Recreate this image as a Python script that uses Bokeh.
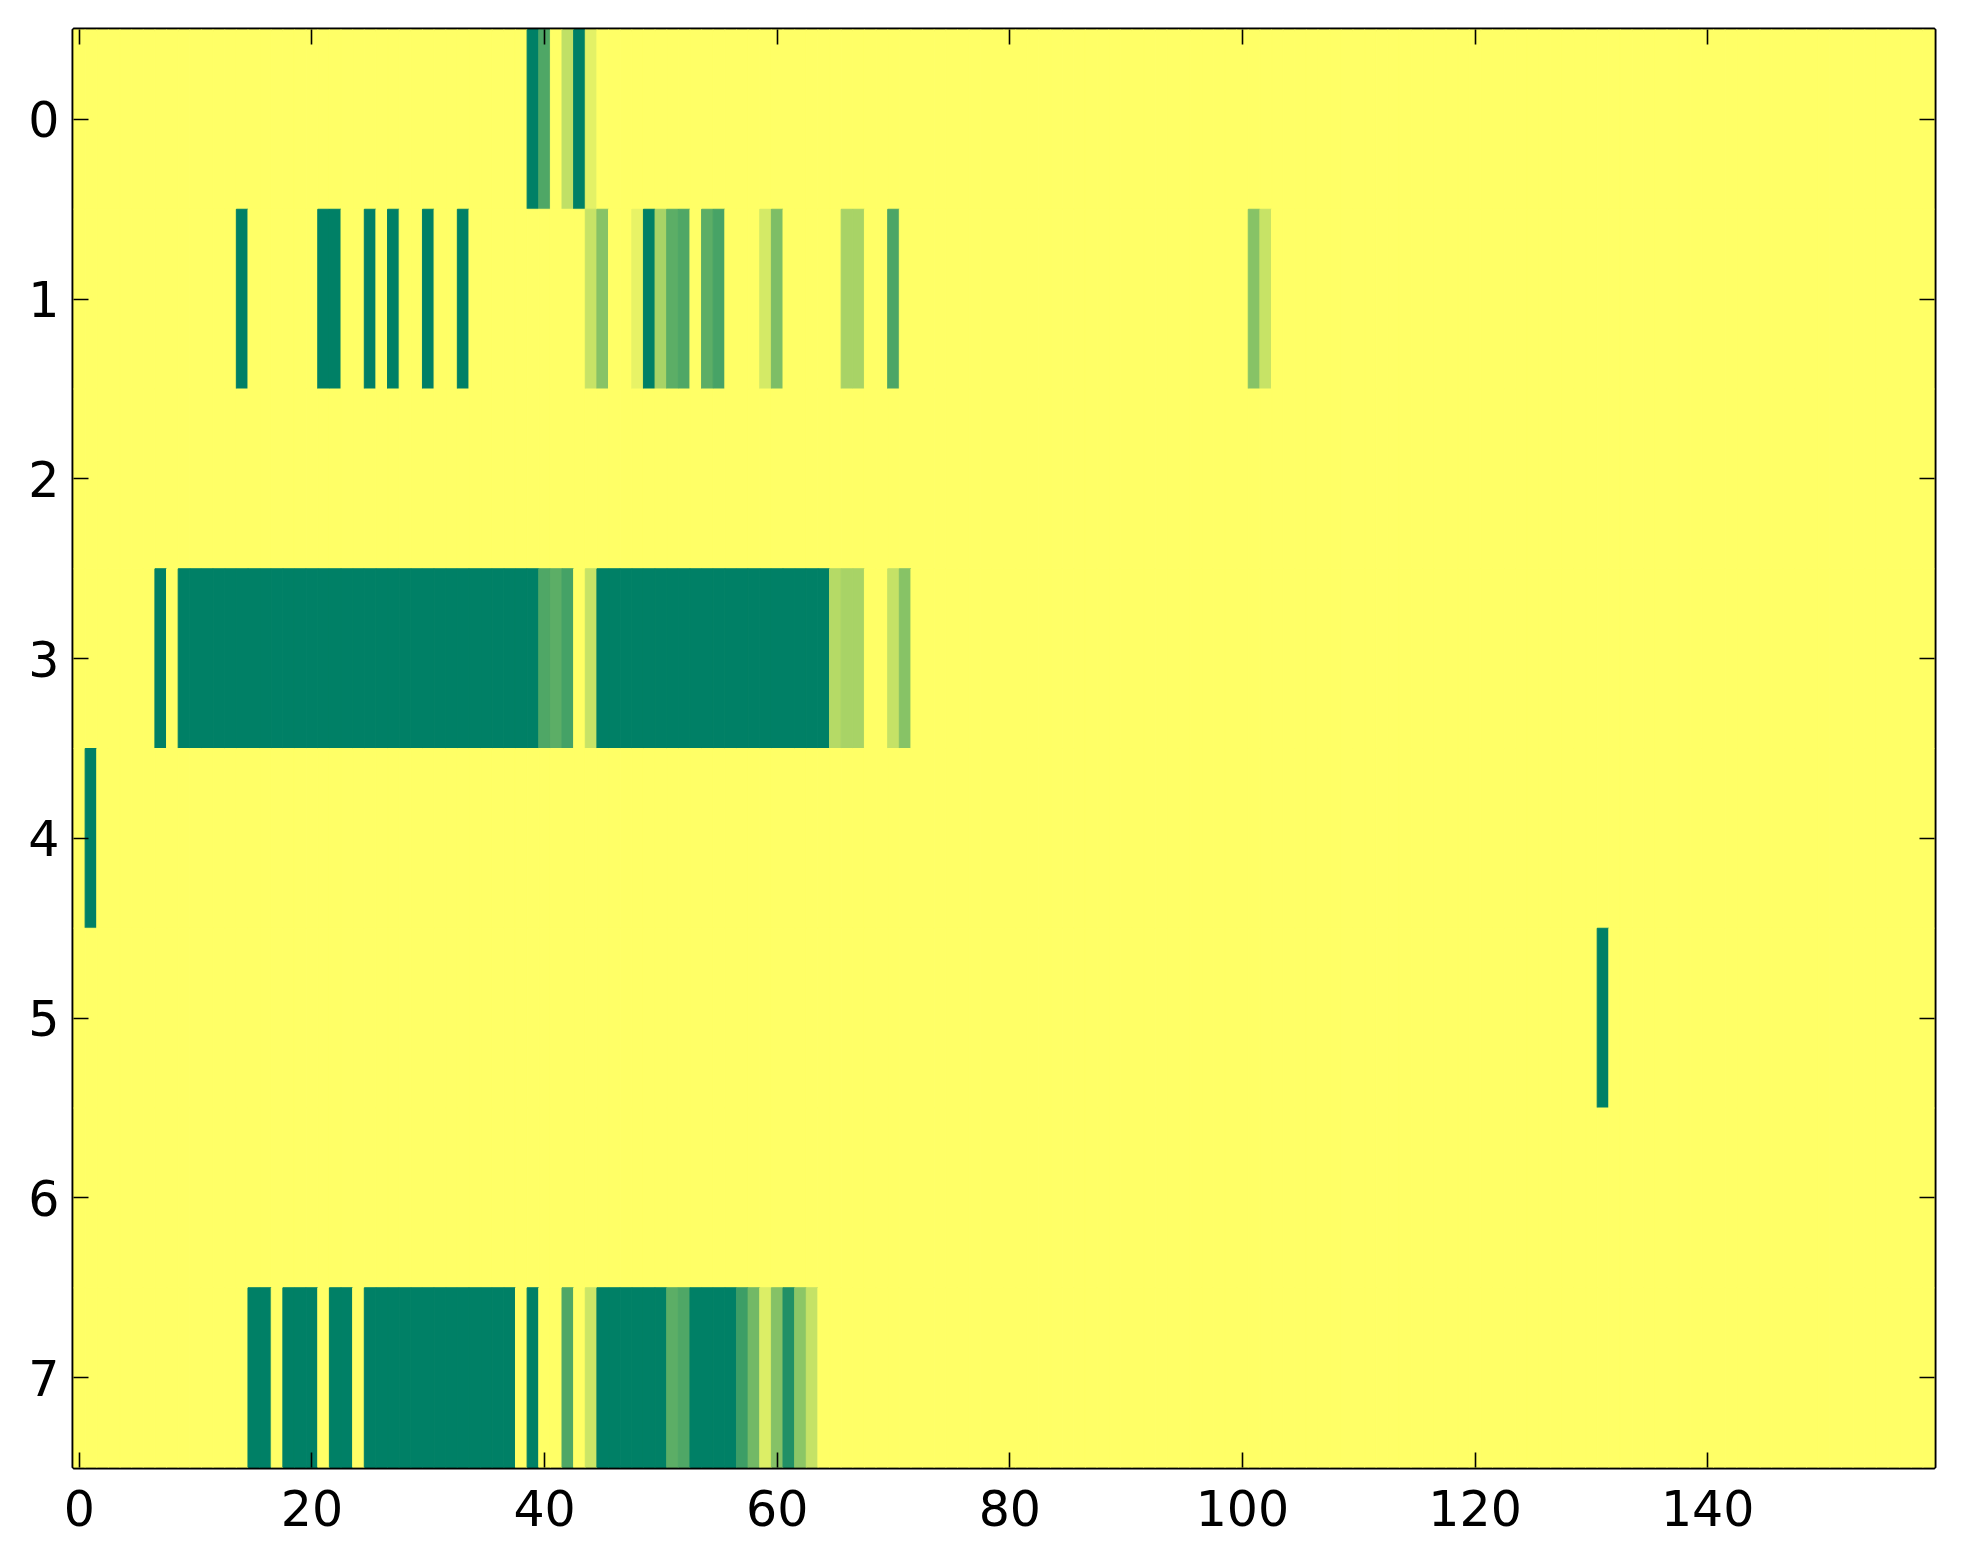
from bokeh.plotting import figure
from bokeh.models import Range1d, LinearAxis, FixedTicker, LinearColorMapper, ColumnDataSource
from bokeh.transform import transform
from bokeh.embed import file_html
from bokeh.resources import INLINE

# ---------------- data ----------------
n_rows = 8
n_cols = 160
background_value = 1.0  # yellow cells

# runs of (first_col, last_col, value) per row; all other cells = background_value
row0_runs = [(39, 39, 0.0), (40, 40, 0.31), (42, 42, 0.75), (43, 43, 0.0), (44, 44, 0.89)]
row1_runs = [(14, 14, 0.0), (21, 22, 0.0), (25, 25, 0.0), (27, 27, 0.0), (30, 30, 0.0),
             (33, 33, 0.0), (44, 44, 0.78), (45, 45, 0.53), (48, 48, 0.91), (49, 49, 0.0),
             (50, 50, 0.66), (51, 51, 0.36), (52, 52, 0.31), (54, 54, 0.36), (55, 55, 0.28),
             (59, 59, 0.83), (60, 60, 0.49), (66, 67, 0.66), (70, 70, 0.30),
             (101, 101, 0.53), (102, 102, 0.78)]
row2_runs = []
row3_runs = [(7, 7, 0.0), (9, 39, 0.0), (40, 40, 0.31), (41, 41, 0.36), (42, 42, 0.27),
             (44, 44, 0.78), (45, 64, 0.0), (65, 65, 0.71), (66, 67, 0.66),
             (70, 70, 0.77), (71, 71, 0.53)]
row4_runs = [(1, 1, 0.0)]
row5_runs = [(131, 131, 0.0)]
row6_runs = []
row7_runs = [(15, 16, 0.0), (18, 20, 0.0), (22, 23, 0.0), (25, 37, 0.0), (39, 39, 0.0),
             (42, 42, 0.31), (44, 44, 0.80), (45, 50, 0.0), (51, 51, 0.36), (52, 52, 0.31),
             (53, 56, 0.0), (57, 57, 0.24), (58, 58, 0.45), (59, 59, 0.86), (60, 60, 0.52),
             (61, 61, 0.13), (62, 62, 0.55), (63, 63, 0.77)]

all_runs = [row0_runs, row1_runs, row2_runs, row3_runs, row4_runs, row5_runs, row6_runs, row7_runs]

x_ticks = [0, 20, 40, 60, 80, 100, 120, 140]
y_ticks = [0, 1, 2, 3, 4, 5, 6, 7]

# build grid from the runs
grid = [[background_value] * n_cols for _ in range(n_rows)]
for r, runs in enumerate(all_runs):
    for a, b, v in runs:
        for c in range(a, b + 1):
            grid[r][c] = v

xs, ys, vals = [], [], []
for r in range(n_rows):
    for c in range(n_cols):
        xs.append(c)
        ys.append(r)
        vals.append(grid[r][c])
source = ColumnDataSource(dict(x=xs, y=ys, v=vals))

# matplotlib "summer" colormap
def _hex(t):
    r = int(round(255 * t))
    g = int(round(255 * (0.5 + 0.5 * t)))
    b = int(round(255 * 0.4))
    return "#%02x%02x%02x" % (r, g, b)

palette = [_hex(i / 255) for i in range(256)]
mapper = LinearColorMapper(palette=palette, low=0.0, high=1.0)

# ---------------- figure ----------------
FONT = "DejaVu Sans"
FS = "49px"

p = figure(frame_width=1861, frame_height=1438,
           x_range=Range1d(-0.5, n_cols - 0.5), y_range=Range1d(n_rows - 0.5, -0.5),
           output_backend="svg", toolbar_location=None,
           min_border_left=73, min_border_top=29, min_border_right=10, min_border_bottom=81,
           background_fill_color="white", border_fill_color="white")

p.rect(x="x", y="y", width=1, height=1, source=source,
       fill_color=transform("v", mapper), line_color=transform("v", mapper), line_width=1)

p.xgrid.visible = False
p.ygrid.visible = False
p.outline_line_color = "black"
p.outline_line_width = 4
p.outline_line_alpha = 1.0

def style_axis(ax, show_labels, standoff):
    ax.axis_line_color = None
    ax.major_tick_in = 15
    ax.major_tick_out = 0
    ax.major_tick_line_width = 1.6
    ax.major_tick_line_color = "black"
    ax.minor_tick_line_color = None
    ax.major_label_text_font = FONT
    ax.major_label_text_color = "black"
    ax.major_label_standoff = standoff
    if show_labels:
        ax.major_label_text_font_size = FS
    else:
        ax.major_label_text_font_size = "0px"

p.xaxis.ticker = FixedTicker(ticks=x_ticks)
p.yaxis.ticker = FixedTicker(ticks=y_ticks)
style_axis(p.xaxis[0], True, 22)
style_axis(p.yaxis[0], True, 14)

top_axis = LinearAxis(ticker=FixedTicker(ticks=x_ticks),
                      major_label_overrides={t: "" for t in x_ticks})
style_axis(top_axis, False, 0)
p.add_layout(top_axis, "above")

right_axis = LinearAxis(ticker=FixedTicker(ticks=y_ticks),
                        major_label_overrides={t: "" for t in y_ticks})
style_axis(right_axis, False, 0)
p.add_layout(right_axis, "right")

open("out.html", "w").write(file_html(p, INLINE))
